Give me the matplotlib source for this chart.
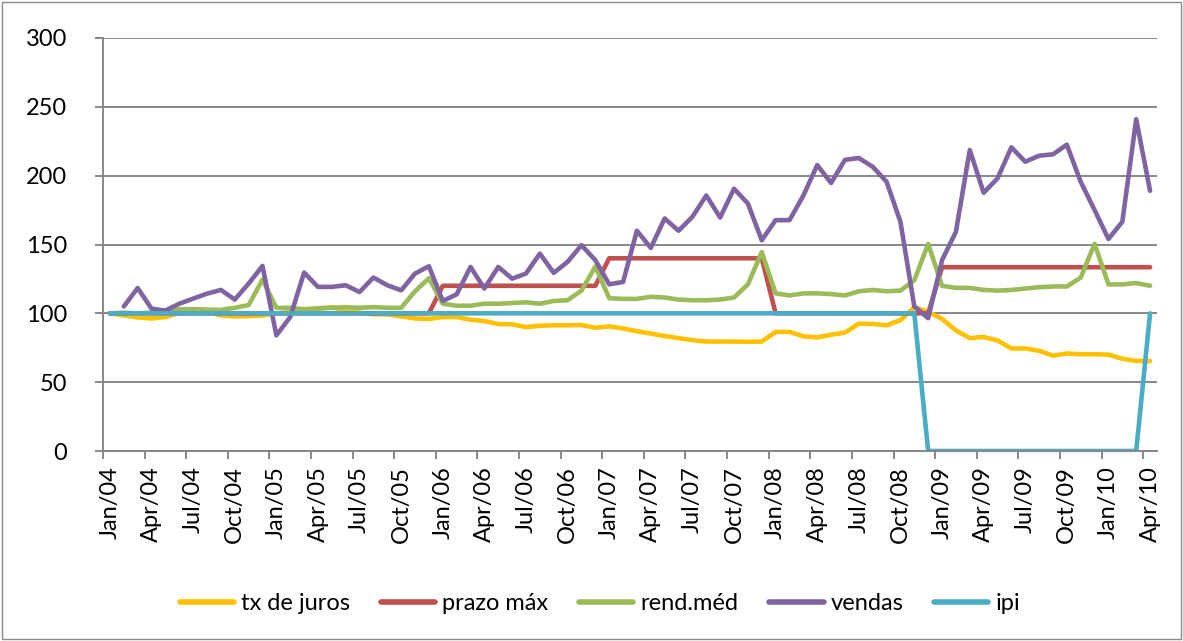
import matplotlib
matplotlib.use("Agg")
import matplotlib.pyplot as plt
from matplotlib.patches import Rectangle
import numpy as np

months = ["Jan", "Feb", "Mar", "Apr", "May", "Jun", "Jul", "Aug", "Sep", "Oct", "Nov", "Dec"]
categories = [f"{months[m]}/{y:02d}" for y in range(4, 11) for m in range(12)][:76]

tx_juros = [100, 98.5, 97, 96.3, 97.3, 100.3, 101, 101, 98.5, 97.8,
            98, 98.5, 100, 101, 102.5, 103.5, 104.5, 102, 100.5, 99.3,
            99.3, 97.8, 96.3, 96, 97.3, 97.3, 95.4, 94.4, 92.2, 92,
            90, 91, 91.3, 91.3, 91.5, 89.5, 90.5, 89, 87, 85.3,
            83.5, 82, 80.5, 79.5, 79.5, 79.5, 79.3, 79.5, 86.5, 86.5,
            83.3, 82.5, 84.5, 86, 92.5, 92.3, 91.3, 95, 104.5, 101,
            96, 87.6, 82, 82.8, 80.3, 74.5, 74.5, 72.8, 69.3, 70.8,
            70.3, 70.3, 70, 67, 65.5, 65.3]

prazo_max = [100] * 24 + [120] * 12 + [140] * 12 + [100] * 12 + [133.5] * 16

rend_med = [100, 100.5, 100, 100.5, 101, 103, 103, 102.7, 102.5, 104,
            106, 124.5, 104, 104, 103, 103.5, 104, 104.5, 104, 104.5,
            104, 104, 116, 125.5, 107, 105.5, 105.5, 107, 107, 107.5,
            108, 107, 109, 109.5, 116.5, 134, 111, 110.5, 110.5, 112,
            111.5, 110, 109.5, 109.5, 110, 111.5, 121, 144.5, 114.5, 113,
            114.5, 114.5, 114, 113, 116, 117, 116, 116.5, 124, 150.5,
            120, 118.5, 118.5, 117, 116.5, 117, 118, 119, 119.5, 119.5,
            126, 150.5, 121, 121, 122, 120]

vendas = [np.nan, 105, 118.4, 103.4, 102, 107, 110.7, 114.3, 117, 110,
          121.6, 134.4, 84, 97.3, 129.6, 119.2, 119.2, 120.4, 115.5, 126,
          120.4, 116.7, 128.9, 134.2, 109, 113.8, 133.7, 118, 133.7, 125.2,
          128.9, 143.4, 129.4, 137.4, 149.5, 138.6, 121.1, 122.8, 160, 147.5,
          168.9, 160, 170.1, 185.6, 169.6, 190.5, 179.8, 153.1, 167.7, 167.7,
          185.5, 207.7, 194.7, 211.5, 212.8, 206.5, 195.6, 166.5, 105, 96.5,
          138.6, 159.2, 218.6, 187.6, 198, 220.6, 210.1, 214.5, 215.5, 222.5,
          195.5, 175, 154, 166.5, 241, 189]

ipi = [100] * 59 + [0] * 16 + [100]

series_names = ["tx de juros", "prazo máx", "rend.méd", "vendas", "ipi"]
series_values = [tx_juros, prazo_max, rend_med, vendas, ipi]
colors = ["#FFC000", "#C0504D", "#9BBB59", "#8064A2", "#4BACC6"]

plt.rcParams["font.family"] = ["Lato", "DejaVu Sans"]
FS = 17

fig = plt.figure(figsize=(11.83, 6.41), dpi=100)
ax = fig.add_axes([103 / 1183, 1 - 451 / 641, (1157 - 103) / 1183, (451 - 38) / 641])

x = np.arange(len(categories))
for name, vals, c in zip(series_names, series_values, colors):
    ax.plot(x, vals, color=c, lw=3.3, label=name,
            solid_joinstyle="round", solid_capstyle="round")

ax.set_xlim(-0.5, len(categories) - 0.5)
ax.set_ylim(0, 300)
ax.set_yticks(np.arange(0, 301, 50))
ax.yaxis.grid(True, color="#878787", lw=1.4)
ax.set_axisbelow(True)

# labels at category centres every 3 months, tick marks on category boundaries
ax.set_xticks(x[::3])
ax.set_xticklabels(categories[::3], rotation=90, fontsize=FS)
ax.set_xticks(np.arange(-0.5, len(categories) - 1, 3), minor=True)
ax.tick_params(axis="x", which="major", length=0, pad=11)
ax.tick_params(axis="x", which="minor", length=6, width=1.4, color="#878787")
ax.tick_params(axis="y", length=6, width=1.4, color="#878787", pad=20, labelsize=FS)

for s in ["top", "right"]:
    ax.spines[s].set_visible(False)
for s in ["left", "bottom"]:
    ax.spines[s].set_color("#878787")
    ax.spines[s].set_linewidth(1.4)

leg = fig.legend(loc="center", bbox_to_anchor=(600 / 1183, 1 - 604 / 641), ncol=5,
                 frameon=False, fontsize=FS, handlelength=2.3, handletextpad=0.3,
                 columnspacing=1.3)
for h in leg.get_lines():
    h.set_linewidth(4)

fig.patches.append(Rectangle((0.0015, 0.003), 0.997, 0.994, transform=fig.transFigure,
                             fill=False, edgecolor="#8a8a8a", lw=1.0))

fig.savefig("out.png", dpi=100)
